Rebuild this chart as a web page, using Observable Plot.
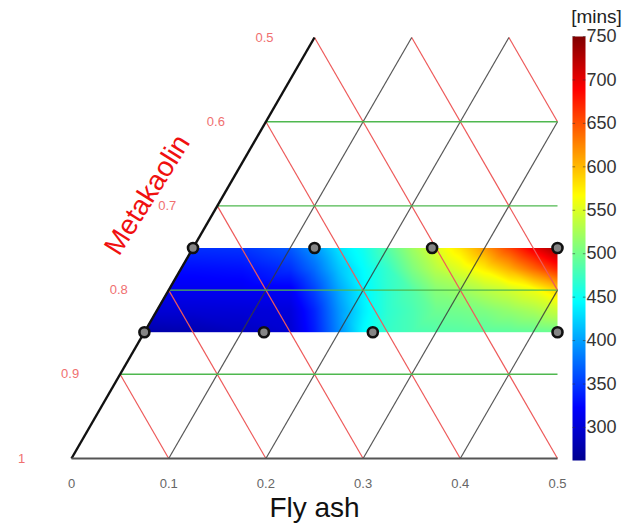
<!DOCTYPE html>
<html><head><meta charset="utf-8">
<script src="https://cdn.jsdelivr.net/npm/d3@7"></script>
<script src="https://cdn.jsdelivr.net/npm/@observablehq/plot@0.6"></script>
<style>
html,body{margin:0;padding:0;background:#fff;}
#chart{position:relative;width:625px;height:526px;overflow:hidden;}
#chart svg{position:absolute;top:0;}
</style></head><body><div id="chart"></div>
<script>
// ---- data ----
const flyAshTicks = [0, 0.1, 0.2, 0.3, 0.4, 0.5];
const flyAshLabels = ["0", "0.1", "0.2", "0.3", "0.4", "0.5"];
const metakaolinTicks = [0.5, 0.6, 0.7, 0.8, 0.9, 1];
const metakaolinLabels = ["0.5", "0.6", "0.7", "0.8", "0.9", "1"];
const gridMetakaolin = [0.6, 0.7, 0.8, 0.9];
const gridFlyAsh = [0.1, 0.2, 0.3, 0.4];
const gridThird = [0.1, 0.2, 0.3, 0.4, 0.5, 0.6, 0.7];

// sample points (fly ash, metakaolin)
const pointMetakaolin = [0.75, 0.75, 0.75, 0.75, 0.85, 0.85, 0.85, 0.85];
const pointFlyAsh = [0, 0.125, 0.246, 0.375, 0, 0.123, 0.235, 0.425];

// heat field: columns (horizontal position, fly-ash units) x rows (metakaolin)
const heatX = [0.075, 0.125, 0.175, 0.225, 0.25, 0.275, 0.3, 0.325, 0.35, 0.375, 0.4, 0.425, 0.45, 0.475, 0.5];
const heatM = [0.75, 0.775, 0.8, 0.825, 0.85];
const heatRow075  = [345, 345, 347, 365, 394, 432, 453, 486, 520, 552, 580, 615, 657, 697, 735];
const heatRow0775 = [328, 328, 330, 345, 375, 417, 445, 470, 505, 533, 553, 575, 604, 638, 672];
const heatRow080  = [315, 315, 316, 318, 355, 403, 440, 467, 485, 510, 520, 533, 545, 560, 588];
const heatRow0825 = [300, 300, 301, 303, 340, 394, 437, 467, 480, 497, 500, 505, 515, 525, 540];
const heatRow085  = [276, 280, 288, 298, 336, 390, 443, 470, 480, 485, 487, 488, 490, 493, 497];

const colorbarTicks = [300, 350, 400, 450, 500, 550, 600, 650, 700, 750];
const colorMin = 262, colorMax = 750;
const jetStops = [0, 0.125, 0.375, 0.625, 0.875, 1];
const jetColors = ["#00008f", "#0000ff", "#00ffff", "#ffff00", "#ff0000", "#800000"];

// ---- derived tables ----
const FONT = "Liberation Sans, Arial, Helvetica, sans-serif";
const proj = (f, m) => f + (1 - m) / 2; // ternary -> horizontal position
const heatRows = [heatRow075, heatRow0775, heatRow080, heatRow0825, heatRow085];
const heat = heatM.flatMap((m, i) => heatX.map((x, j) => ({X: x, m, v: heatRows[i][j]})));
const points = pointFlyAsh.map((f, i) => ({f, m: pointMetakaolin[i]}));
const greenLines = gridMetakaolin.map(m => ({x1: proj(0, m), y1: m, x2: 0.5, y2: m}));
const blackLines = gridFlyAsh.map(f => { const mt = Math.max(0.5, 2 * f); return {x1: proj(f, 1), y1: 1, x2: proj(f, mt), y2: mt}; });
const redLines = gridThird.map(c => {
  const mb = Math.min(1, 2 - 2 * c), mt = Math.max(0.5, 1 - c);
  return {x1: c - (1 - mb) / 2, y1: mb, x2: c - (1 - mt) / 2, y2: mt};
});
const edgeLines = [
  {x1: proj(0, 1), y1: 1, x2: proj(0, 0.5), y2: 0.5, w: 2.4, s: "#111"},
  {x1: proj(0, 1), y1: 1, x2: proj(0.5, 1), y2: 1, w: 2, s: "#555"}
];
const xLab = flyAshTicks.map((v, i) => ({v, label: flyAshLabels[i]}));
const mLab = metakaolinTicks.map((v, i) => ({v, label: metakaolinLabels[i]}));
const band = [heatM[0], heatM[heatM.length - 1]];

const colorScale = {
  type: "linear",
  domain: jetStops.map(t => colorMin + t * (colorMax - colorMin)),
  range: jetColors, interpolate: "rgb", clamp: true
};

const main = Plot.plot({
  width: 625, height: 526,
  marginLeft: 71, marginRight: 68, marginTop: 37, marginBottom: 68,
  x: {domain: [0, 0.5], axis: null},
  y: {domain: [1, 0.5], axis: null},
  color: colorScale,
  style: {fontFamily: FONT, background: "white"},
  marks: [
    Plot.raster(heat, {x: "X", y: "m", fill: "v", interpolate: "barycentric",
      x1: heatX[0], x2: heatX[heatX.length - 1], y1: heatM[heatM.length - 1], y2: heatM[0]}),
    Plot.areaX(band, {y: d => d, x1: () => heatX[0] - 0.02, x2: d => proj(0, d), fill: "white"}),
    Plot.link(redLines, {x1: "x1", y1: "y1", x2: "x2", y2: "y2", stroke: "#ee5a5a", strokeWidth: 1.2}),
    Plot.link(blackLines, {x1: "x1", y1: "y1", x2: "x2", y2: "y2", stroke: "#3a3a3a", strokeWidth: 1.2, strokeOpacity: 0.85}),
    Plot.link(greenLines, {x1: "x1", y1: "y1", x2: "x2", y2: "y2", stroke: "#4fb84f", strokeWidth: 1.4}),
    Plot.link(edgeLines, {x1: "x1", y1: "y1", x2: "x2", y2: "y2", stroke: d => d.s, strokeWidth: d => d.w}),
    Plot.dot(points, {x: d => proj(d.f, d.m), y: "m", r: 5, fill: "#858585", stroke: "#111", strokeWidth: 2.6}),
    Plot.text(xLab, {x: "v", y: () => 1, dy: 25, text: "label", fontSize: 13, fill: "#666"}),
    Plot.text(mLab, {x: d => proj(0, d.v), y: "v", dx: -50, text: "label", fontSize: 13, fill: "#f07070"}),
    Plot.text(["Metakaolin"], {x: () => proj(0, 0.7), y: () => 0.7, dx: -70, dy: -11, rotate: -58, fontSize: 28, fill: "#f01010"}),
    Plot.text(["Fly ash"], {x: () => 0.25, y: () => 1, dy: 50, fontSize: 28, fill: "#111"})
  ]
});

const bar = Plot.plot({
  width: 60, height: 526,
  marginLeft: 4, marginRight: 43, marginTop: 36, marginBottom: 66,
  x: {domain: [0, 1], axis: null},
  y: {domain: [colorMin, colorMax], axis: null},
  color: colorScale,
  style: {fontFamily: FONT, background: "transparent", overflow: "visible"},
  marks: [
    Plot.raster({fill: (x, y) => y, x1: 0, x2: 1, y1: colorMin, y2: colorMax}),
    Plot.link(colorbarTicks, {x1: () => 0.8, x2: () => 1, y1: d => d, y2: d => d, stroke: "#333", strokeOpacity: 0.55}),
    Plot.link(colorbarTicks, {x1: () => 0, x2: () => 0.2, y1: d => d, y2: d => d, stroke: "#333", strokeOpacity: 0.55}),
    Plot.axisY(colorbarTicks, {anchor: "right", tickSize: 0, tickPadding: 1, fontSize: 18, color: "#333"}),
    Plot.text(["[mins]"], {frameAnchor: "top", lineAnchor: "middle", dx: 17.5, dy: -20, fontSize: 19, fill: "#222"})
  ]
});
bar.style.left = "568px";
main.style.left = "0px";
const el = document.getElementById("chart");
el.appendChild(main);
el.appendChild(bar);
</script>
</body></html>
